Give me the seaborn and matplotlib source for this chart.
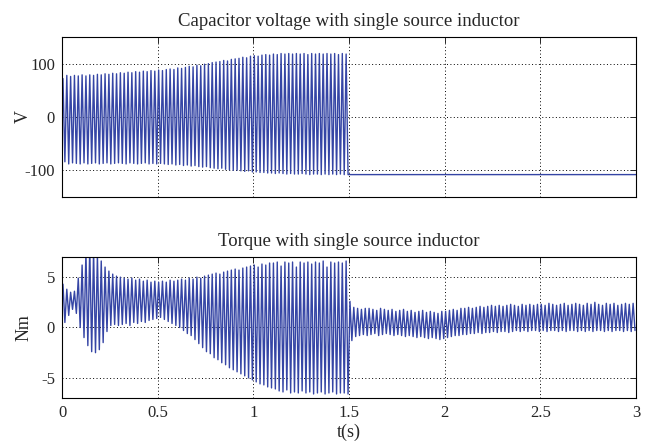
import numpy as np
import pandas as pd
import seaborn as sns
import matplotlib
matplotlib.use('Agg')
import matplotlib.pyplot as plt

# half period of the 50 Hz oscillation (s)
half_period = 0.01
t_end = 3.0

# capacitor voltage, per-cycle peaks / troughs (V), 0 - 1.5 s
volt_hi = [72, 78, 76, 78, 77, 79, 77, 79, 78, 80,
           79, 81, 80, 82, 81, 83, 82, 84, 83, 85,
           84, 86, 85, 87, 86, 88, 87, 89, 90, 89,
           92, 91, 93, 95, 94, 97, 96, 99, 100, 102,
           103, 104, 106, 105, 108, 109, 110, 112, 111, 114,
           115, 114, 116, 117, 116, 118, 117, 119, 118, 119,
           118, 119, 118, 119, 117, 119, 118, 119, 118, 119,
           118, 119, 117, 119, 118]
volt_lo = [-84, -88, -86, -87, -88, -86, -88, -87, -86, -88,
           -87, -86, -88, -87, -86, -87, -88, -86, -87, -88,
           -87, -86, -88, -87, -88, -87, -88, -89, -88, -90,
           -89, -91, -90, -92, -91, -93, -94, -93, -95, -96,
           -97, -96, -98, -99, -100, -100, -101, -102, -101, -103,
           -103, -104, -104, -105, -105, -106, -105, -106, -107, -106,
           -107, -107, -106, -107, -108, -107, -107, -108, -107, -108,
           -107, -108, -107, -108, -108]
volt_after = -108

# torque, per-cycle peaks / troughs (Nm), 0 - 3 s
torque_hi = [4.3, 3.8, 3.5, 3.6, 4.9, 6.2, 7.5, 8.0, 7.6, 7.2,
             6.6, 6.0, 5.6, 5.3, 5.1, 5.0, 4.9, 4.8, 4.9, 4.7,
             4.8, 4.6, 4.7, 4.5, 4.6, 4.5, 4.6, 4.5, 4.7, 4.6,
             4.7, 4.8, 4.7, 4.9, 4.8, 5.0, 4.9, 5.1, 5.2, 5.3,
             5.4, 5.3, 5.5, 5.6, 5.7, 5.8, 5.7, 5.9, 6.0, 6.1,
             6.2, 6.0, 6.3, 6.2, 6.4, 6.4, 6.5, 6.1, 6.5, 6.4,
             6.5, 6.0, 6.5, 6.4, 6.5, 6.3, 6.5, 6.4, 6.6, 6.0,
             6.5, 6.4, 6.5, 6.4, 6.6,
             2.6, 2.0, 1.9, 1.8, 1.9, 1.9, 1.8, 1.7, 1.9, 1.8,
             1.7, 1.8, 1.6, 1.7, 1.8, 1.6, 1.7, 1.5, 1.6, 1.7,
             1.5, 1.6, 1.5, 1.4, 1.6, 1.6, 1.7, 1.8, 1.7, 1.9,
             1.9, 2.0, 1.9, 2.0, 2.1, 2.0, 2.1, 2.2, 2.1, 2.2,
             2.1, 2.2, 2.3, 2.2, 2.1, 2.3, 2.2, 2.3, 2.2, 2.3,
             2.3, 2.2, 2.4, 2.3, 2.2, 2.3, 2.4, 2.2, 2.3, 2.4,
             2.3, 2.2, 2.4, 2.3, 2.5, 2.3, 2.2, 2.4, 2.3, 2.4,
             2.2, 2.3, 2.4, 2.3, 2.4]
torque_lo = [0.5, 1.2, 1.8, 1.4, 0.0, -1.0, -1.8, -2.4, -2.5, -2.2,
             -1.5, -0.4, 0.2, 0.3, 0.2, 0.3, 0.4, 0.2, 0.5, 0.4,
             0.6, 0.5, 0.7, 0.8, 0.9, 1.0, 0.8, 0.6, 0.4, 0.2,
             0.0, -0.3, -0.6, -0.8, -1.2, -1.6, -2.0, -2.4, -2.6, -3.0,
             -3.2, -3.5, -3.7, -4.0, -4.2, -4.4, -4.6, -4.8, -5.0, -5.2,
             -5.4, -5.6, -5.7, -5.9, -6.0, -6.1, -6.3, -6.4, -6.2, -6.5,
             -6.4, -6.5, -6.3, -6.5, -6.4, -6.6, -6.5, -6.4, -6.6, -6.5,
             -6.4, -6.6, -6.5, -6.5, -6.6,
             -1.3, -0.9, -0.8, -0.7, -0.8, -0.7, -0.6, -0.8, -0.7, -0.6,
             -0.7, -0.8, -0.7, -0.8, -0.9, -0.8, -0.9, -1.0, -0.9, -1.0,
             -1.1, -1.0, -1.1, -1.2, -1.1, -1.0, -0.9, -0.8, -0.8, -0.7,
             -0.7, -0.6, -0.6, -0.5, -0.6, -0.5, -0.5, -0.4, -0.5, -0.4,
             -0.4, -0.5, -0.4, -0.3, -0.4, -0.3, -0.4, -0.3, -0.3, -0.4,
             -0.3, -0.4, -0.3, -0.3, -0.4, -0.3, -0.4, -0.3, -0.3, -0.4,
             -0.3, -0.4, -0.3, -0.4, -0.3, -0.3, -0.4, -0.3, -0.4, -0.3,
             -0.3, -0.4, -0.3, -0.4, -0.3]

titles = ['Capacitor voltage with single source inductor',
          'Torque with single source inductor']
ylabels = ['V', 'Nm']
xticks = [0, 0.5, 1, 1.5, 2, 2.5, 3]


def zigzag(hi, lo):
    y = np.column_stack([hi, lo]).ravel()
    t = (np.arange(len(y)) + 0.5) * half_period
    return t, y


t_v, v = zigzag(volt_hi, volt_lo)
t_v = np.append(t_v, [len(t_v) * half_period, t_end])
v = np.append(v, [volt_after, volt_after])
t_q, q = zigzag(torque_hi, torque_lo)

volt = pd.DataFrame({'t': t_v, 'val': v})
torque = pd.DataFrame({'t': t_q, 'val': q})

sns.set_style('white')
plt.rcParams['font.family'] = ['Liberation Serif', 'DejaVu Serif']
plt.rcParams['font.size'] = 11
plt.rcParams['axes.unicode_minus'] = False

fig = plt.figure(figsize=(6.46, 4.44), dpi=100)
ax1 = fig.add_axes([0.096, 0.5563, 0.8885, 0.3604])
ax2 = fig.add_axes([0.096, 0.1036, 0.8885, 0.3176])

line_col = '#3545a5'
for ax, df, title, ylab in zip([ax1, ax2], [volt, torque], titles, ylabels):
    sns.lineplot(data=df, x='t', y='val', ax=ax, color=line_col,
                 linewidth=1.0, estimator=None)
    ax.set_xlim(0, 3)
    ax.set_xticks(xticks)
    ax.set_title(title, fontsize=13.5, pad=8)
    ax.set_ylabel(ylab, fontsize=13)
    ax.yaxis.set_label_coords(-0.052, 0.5)
    ax.set_xlabel('')
    ax.grid(True, color='black', linestyle=(0, (1, 2.5)), linewidth=0.7)
    ax.tick_params(direction='in', length=4, width=0.7, labelsize=12,
                   top=True, right=True, pad=5)
    for s in ax.spines.values():
        s.set_color('black')
        s.set_linewidth(0.8)

ax1.set_ylim(-150, 150)
ax1.set_yticks([-100, 0, 100])
ax1.set_xticklabels([])
ax2.set_ylim(-7, 7)
ax2.set_yticks([-5, 0, 5])
ax2.set_xticklabels(['0', '0.5', '1', '1.5', '2', '2.5', '3'])
ax2.set_xlabel('t(s)', fontsize=13, labelpad=2)

fig.savefig('out.png', dpi=100)
